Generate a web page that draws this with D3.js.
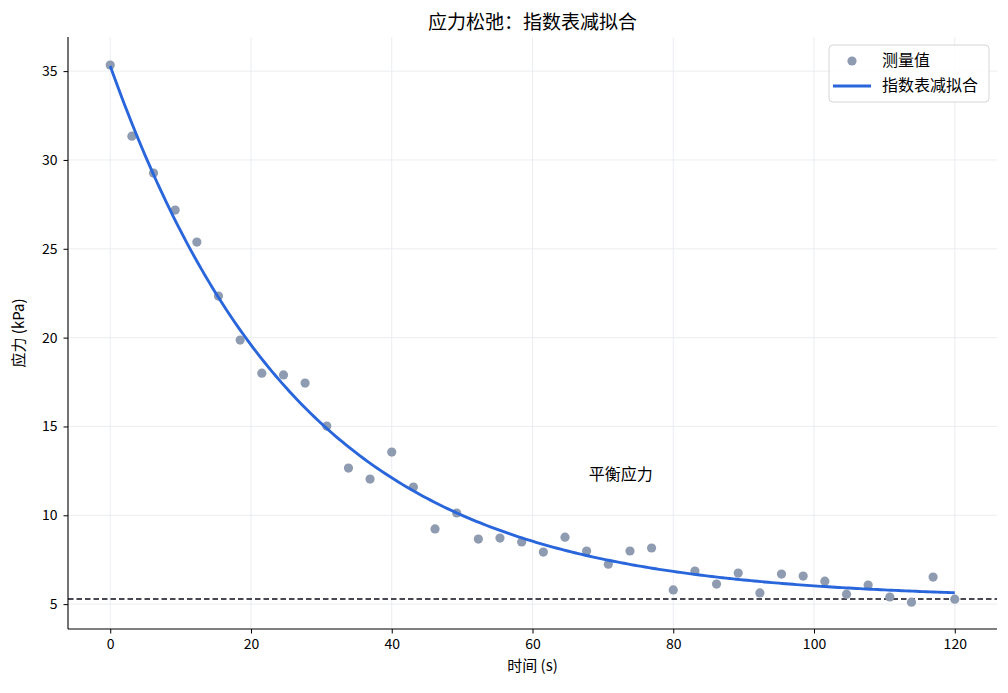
<!DOCTYPE html>
<html><head><meta charset="utf-8">
<script src="https://cdn.jsdelivr.net/npm/d3@7"></script>
<style>
html,body{margin:0;padding:0;background:#fff;}
svg text{font-family:"Noto Sans CJK SC","Noto Sans",sans-serif;}
</style></head>
<body><svg id="c" width="1008" height="693"></svg>
<script>
// ---- data ----
const times = [0,3.08,6.15,9.23,12.31,15.38,18.46,21.54,24.62,27.69,30.77,33.85,36.92,40.0,43.08,46.15,49.23,52.31,55.38,58.46,61.54,64.62,67.69,70.77,73.85,76.92,80.0,83.08,86.15,89.23,92.31,95.38,98.46,101.54,104.62,107.69,110.77,113.85,116.92,120.0];
const stress = [35.34,31.34,29.26,27.18,25.38,22.34,19.86,18.0,17.9,17.44,15.02,12.66,12.04,13.56,11.59,9.23,10.13,8.66,8.72,8.5,7.93,8.77,7.99,7.25,7.99,8.16,5.8,6.86,6.13,6.75,5.63,6.69,6.58,6.29,5.56,6.07,5.4,5.11,6.52,5.28];
const fitEquilibrium = 5.29;
const fitAmplitude = 30.0;
const fitTau = 27.0;
const xTicks = [0,20,40,60,80,100,120];
const yTicks = [5,10,15,20,25,30,35];
const legendLabels = ["测量值","指数表减拟合"];
const annotation = {x:68, y:12, text:"平衡应力"};

// ---- layout ----
const svg = d3.select("#c");
const L=68, R=997, T=37, B=629;
const x = d3.scaleLinear().domain([-6,126]).range([L,R]);
const y = d3.scaleLinear().domain([3.6,36.92]).range([B,T]);

// grid
const g = svg.append("g");
g.selectAll(".gx").data(xTicks).enter().append("line")
 .attr("x1",d=>x(d)).attr("x2",d=>x(d)).attr("y1",T).attr("y2",B)
 .attr("stroke","#e6e8ee").attr("stroke-width",0.8);
g.selectAll(".gy").data(yTicks).enter().append("line")
 .attr("x1",L).attr("x2",R).attr("y1",d=>y(d)).attr("y2",d=>y(d))
 .attr("stroke","#e6e8ee").attr("stroke-width",0.8);

// equilibrium dashed line
svg.append("line").attr("x1",L).attr("x2",R)
 .attr("y1",y(fitEquilibrium)).attr("y2",y(fitEquilibrium))
 .attr("stroke","#0d0d1a").attr("stroke-width",1.5).attr("stroke-dasharray","5.5,3");

// points
svg.append("g").selectAll("circle").data(times).enter().append("circle")
 .attr("cx",d=>x(d)).attr("cy",(d,i)=>y(stress[i])).attr("r",4.6)
 .attr("fill","#8e9bb0");

// fit curve
const curveT = d3.range(0,120.001,0.5);
const fitLine = d3.line().x(d=>x(d)).y(d=>y(fitEquilibrium+fitAmplitude*Math.exp(-d/fitTau)));
svg.append("path").datum(curveT).attr("d",fitLine)
 .attr("fill","none").attr("stroke","#2a66db").attr("stroke-width",2.9);

// axes
const xa = svg.append("g").attr("transform",`translate(0,${B})`)
 .call(d3.axisBottom(x).tickValues(xTicks).tickSize(4.5).tickPadding(6));
const ya = svg.append("g").attr("transform",`translate(${L},0)`)
 .call(d3.axisLeft(y).tickValues(yTicks).tickSize(4.5).tickPadding(6));
[xa,ya].forEach(a=>{
  a.select(".domain").attr("stroke","#000").attr("stroke-width",1.1);
  a.selectAll(".tick line").attr("stroke","#000").attr("stroke-width",1);
  a.selectAll(".tick text").attr("font-size",14).attr("fill","#000")
   .style("font-family",'"Noto Sans CJK SC",sans-serif');
});
xa.select(".domain").attr("d",`M${L},0H${R}`);
ya.select(".domain").attr("d",`M0,${B}V${T}`);

// annotation
svg.append("text").attr("x",x(annotation.x)).attr("y",y(annotation.y))
 .attr("font-size",16).attr("fill","#000").text(annotation.text);

// labels
svg.append("text").attr("x",(L+R)/2).attr("y",29).attr("text-anchor","middle")
 .attr("font-size",19).attr("fill","#000").text("应力松弛：指数表减拟合");
svg.append("text").attr("x",(L+R)/2).attr("y",671).attr("text-anchor","middle")
 .attr("font-size",15).attr("fill","#000").text("时间 (s)");
svg.append("text").attr("transform",`translate(24,${(T+B)/2}) rotate(-90)`)
 .attr("text-anchor","middle").attr("font-size",15).attr("fill","#000").text("应力 (kPa)");

// legend
const lg = svg.append("g");
lg.append("rect").attr("x",829).attr("y",45).attr("width",160).attr("height",57)
 .attr("rx",4).attr("fill","#fff").attr("fill-opacity",0.85)
 .attr("stroke","#d6d6d6").attr("stroke-width",1);
lg.append("circle").attr("cx",852).attr("cy",61).attr("r",4.6).attr("fill","#8e9bb0");
lg.append("line").attr("x1",833).attr("x2",871).attr("y1",86).attr("y2",86)
 .attr("stroke","#2a66db").attr("stroke-width",2.9);
lg.selectAll("text").data(legendLabels).enter().append("text")
 .attr("x",882).attr("y",(d,i)=>66+i*25).attr("font-size",16).attr("fill","#000").text(d=>d);
</script></body></html>
